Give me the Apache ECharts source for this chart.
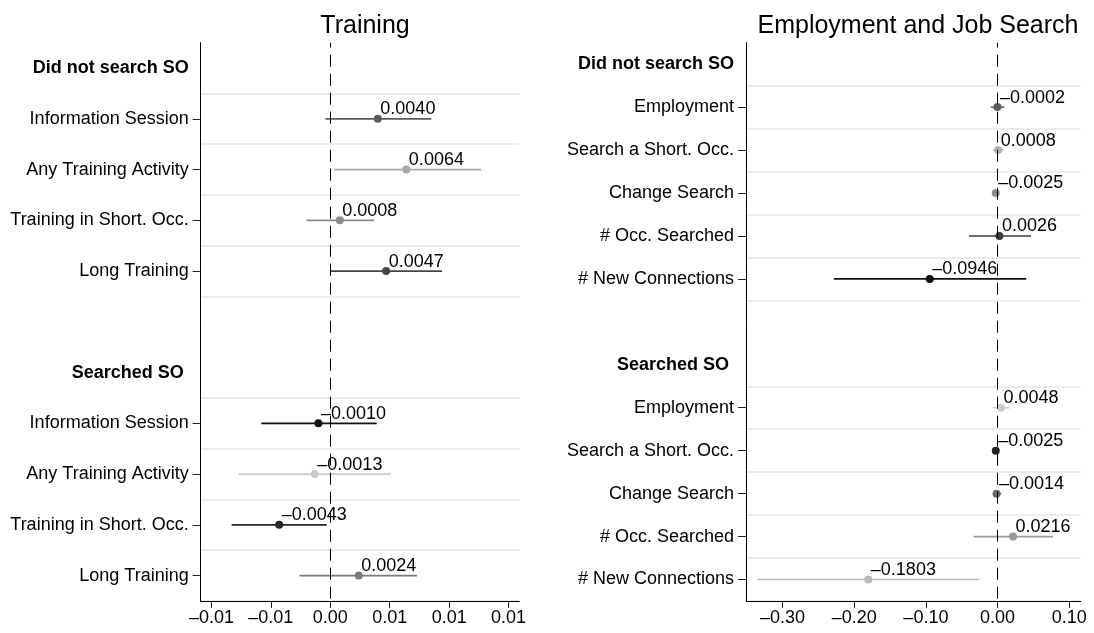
<!DOCTYPE html>
<html>
<head>
<meta charset="utf-8">
<script src="https://cdn.jsdelivr.net/npm/echarts@6/dist/echarts.min.js"></script>
<style>
  html, body { margin: 0; padding: 0; background: #ffffff; }
  #chart { width: 1094px; height: 633px; }
</style>
</head>
<body>
<div id="chart"></div>
<script>
// ---- Data -------------------------------------------------------------
const groupHeaders = ['Did not search SO', 'Searched SO'];

// Training outcomes
const trainingRows = ['Information Session', 'Any Training Activity', 'Training in Short. Occ.', 'Long Training'];
const trainingNoSearchEst = [0.0040, 0.0064, 0.0008, 0.0047];
const trainingNoSearchLo  = [-0.0004, 0.0003, -0.0020, 0.0000];
const trainingNoSearchHi  = [0.0085, 0.0127, 0.0037, 0.0094];
const trainingSearchEst   = [-0.0010, -0.0013, -0.0043, 0.0024];
const trainingSearchLo    = [-0.0058, -0.0077, -0.0083, -0.0026];
const trainingSearchHi    = [0.0039, 0.0051, -0.0003, 0.0073];
const trainingTickValues  = [-0.01, -0.005, 0, 0.005, 0.01, 0.015];
const trainingTickLabels  = ['\u20130.01', '\u20130.01', '0.00', '0.01', '0.01', '0.01'];

// Employment and job search outcomes
const jobRows = ['Employment', 'Search a Short. Occ.', 'Change Search', '# Occ. Searched', '# New Connections'];
const jobNoSearchEst = [-0.0002, 0.0008, -0.0025, 0.0026, -0.0946];
const jobNoSearchLo  = [-0.0095, -0.0060, -0.0055, -0.0400, -0.2285];
const jobNoSearchHi  = [0.0095, 0.0085, 0.0010, 0.0466, 0.0400];
const jobSearchEst   = [0.0048, -0.0025, -0.0014, 0.0216, -0.1803];
const jobSearchLo    = [-0.0065, -0.0055, -0.0065, -0.0333, -0.3344];
const jobSearchHi    = [0.0170, 0.0010, 0.0052, 0.0774, -0.0257];
const jobTickValues  = [-0.3, -0.2, -0.1, 0, 0.1];
const jobTickLabels  = ['\u20130.30', '\u20130.20', '\u20130.10', '0.00', '0.10'];

// ---- Styles -----------------------------------------------------------
const trainingNoSearchColors = ['#5a5a5a', '#a9a9a9', '#8a8a8a', '#454545'];
const trainingSearchColors   = ['#111111', '#c9c9c9', '#262626', '#7b7b7b'];
const jobNoSearchColors      = ['#5e5e5e', '#b0b0b0', '#898989', '#3a3a3a', '#111111'];
const jobSearchColors        = ['#cdcdcd', '#222222', '#6c6c6c', '#9a9a9a', '#b9b9b9'];

const FONT = '"Liberation Sans", Arial, Helvetica, sans-serif';

// ---- Helpers ----------------------------------------------------------
function buildCategories(rows) {
  return [groupHeaders[0], ...rows, '', groupHeaders[1], ...rows];
}
function fmtValue(v) {
  return (v < 0 ? '\u2013' : '') + Math.abs(v).toFixed(4);
}
function tickFormatter(values, labels) {
  return function (v) {
    for (let i = 0; i < values.length; i++) {
      if (Math.abs(values[i] - v) < 1e-9) return labels[i];
    }
    return '';
  };
}
function ciData(lo, hi, colors, offset) {
  return lo.map((l, i) => ({ value: [l, hi[i], offset + i], itemStyle: { color: colors[i] } }));
}
function pointData(est, colors, offset) {
  return est.map((v, i) => ({ value: [v, offset + i], itemStyle: { color: colors[i], opacity: 1 } }));
}
function ciRender(params, api) {
  const a = api.coord([api.value(0), api.value(2)]);
  const b = api.coord([api.value(1), api.value(2)]);
  return {
    type: 'line',
    shape: { x1: a[0], y1: a[1], x2: b[0], y2: b[1] },
    style: { stroke: api.visual('color'), lineWidth: 1.6 }
  };
}

function makeYAxis(gridIndex, rows) {
  const n = rows.length;
  const cats = buildCategories(rows);
  const isRow = i => (i >= 1 && i <= n) || (i >= n + 3 && i <= 2 * n + 2);
  const hasRuleBefore = i => (i >= 1 && i <= n + 1) || (i >= n + 3 && i <= 2 * n + 2);
  return {
    type: 'category',
    gridIndex: gridIndex,
    data: cats,
    inverse: true,
    z: 3,
    axisLine: { show: true, onZero: false, lineStyle: { color: '#000', width: 1 } },
    axisTick: { show: true, alignWithLabel: true, length: 8, interval: i => isRow(i), lineStyle: { color: '#222', width: 1 } },
    axisLabel: {
      interval: 0,
      margin: 12,
      fontSize: 18,
      fontFamily: FONT,
      color: '#000',
      formatter: function (val, idx) {
        if (idx === 0) return '{h|' + val + '}';
        if (idx === n + 2) return '{hs|' + val + '}';
        return val;
      },
      rich: {
        h:  { fontSize: 18, fontWeight: 'bold', fontFamily: FONT, color: '#000' },
        hs: { fontSize: 18, fontWeight: 'bold', fontFamily: FONT, color: '#000', padding: [0, 5, 0, 0] }
      }
    },
    splitLine: { show: true, interval: i => hasRuleBefore(i), lineStyle: { color: '#e6e6e6', width: 1.6 } }
  };
}

function makeXAxis(gridIndex, min, max, values, labels) {
  return {
    type: 'value',
    gridIndex: gridIndex,
    min: min,
    max: max,
    z: 3,
    axisLine: { show: true, onZero: false, lineStyle: { color: '#000', width: 1 } },
    axisTick: { show: true, customValues: values, length: 7, lineStyle: { color: '#222', width: 1 } },
    axisLabel: { customValues: values, margin: 8, fontSize: 18, fontFamily: FONT, color: '#000',
                 formatter: tickFormatter(values, labels) },
    splitLine: { show: false }
  };
}

const zeroLine = {
  silent: true,
  symbol: ['none', 'none'],
  label: { show: false },
  lineStyle: { color: '#000', width: 1, type: [12, 7], dashOffset: 7 },
  emphasis: { disabled: true },
  data: [{ xAxis: 0 }]
};

const pointLabel = {
  show: true,
  position: [6.5, -5.5],
  align: 'left',
  verticalAlign: 'middle',
  fontSize: 18,
  fontFamily: FONT,
  color: '#000',
  opacity: 1,
  textBorderWidth: 0,
  textBorderColor: 'transparent',
  formatter: p => fmtValue(p.value[0])
};

function panelSeries(axisIndex, nRows, noEst, noLo, noHi, noCol, sEst, sLo, sHi, sCol) {
  const secondOffset = nRows + 3;
  return [
    {
      type: 'custom', xAxisIndex: axisIndex, yAxisIndex: axisIndex,
      renderItem: ciRender, encode: { x: [0, 1], y: 2 }, z: 2,
      data: ciData(noLo, noHi, noCol, 1).concat(ciData(sLo, sHi, sCol, secondOffset))
    },
    {
      type: 'scatter', xAxisIndex: axisIndex, yAxisIndex: axisIndex,
      symbol: 'circle', symbolSize: 8, z: 4,
      itemStyle: { opacity: 1 },
      label: pointLabel,
      data: pointData(noEst, noCol, 1).concat(pointData(sEst, sCol, secondOffset)),
      markLine: zeroLine
    }
  ];
}

const chart = echarts.init(document.getElementById('chart'), null, { renderer: 'canvas' });

chart.setOption({
  animation: false,
  backgroundColor: '#ffffff',
  textStyle: { fontFamily: FONT },
  title: [
    { text: 'Training', left: 360, top: 9, textAlign: 'center',
      textStyle: { fontSize: 25, fontWeight: 'normal', color: '#000', fontFamily: FONT } },
    { text: 'Employment and Job Search', left: 913, top: 9, textAlign: 'center',
      textStyle: { fontSize: 25, fontWeight: 'normal', color: '#000', fontFamily: FONT } }
  ],
  grid: [
    { left: 200.7, right: 574.7, top: 42.7, bottom: 32, containLabel: false },
    { left: 746, right: 13.3, top: 42.7, bottom: 32, containLabel: false }
  ],
  xAxis: [
    makeXAxis(0, -0.0109, 0.0159, trainingTickValues, trainingTickLabels),
    makeXAxis(1, -0.351, 0.116, jobTickValues, jobTickLabels)
  ],
  yAxis: [
    makeYAxis(0, trainingRows),
    makeYAxis(1, jobRows)
  ],
  series: [].concat(
    panelSeries(0, trainingRows.length,
      trainingNoSearchEst, trainingNoSearchLo, trainingNoSearchHi, trainingNoSearchColors,
      trainingSearchEst, trainingSearchLo, trainingSearchHi, trainingSearchColors),
    panelSeries(1, jobRows.length,
      jobNoSearchEst, jobNoSearchLo, jobNoSearchHi, jobNoSearchColors,
      jobSearchEst, jobSearchLo, jobSearchHi, jobSearchColors)
  )
});
</script>
</body>
</html>
